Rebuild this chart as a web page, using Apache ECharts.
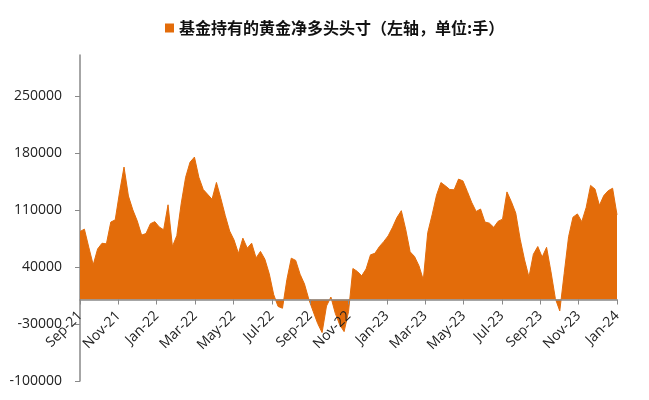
<!DOCTYPE html>
<html>
<head>
<meta charset="utf-8">
<script src="https://cdn.jsdelivr.net/npm/echarts@6/dist/echarts.min.js"></script>
<style>
html,body{margin:0;padding:0;background:#fff;}
#chart{width:649px;height:400px;}
</style>
</head>
<body>
<div id="chart"></div>
<script>
// Weekly net long position held by funds (contracts), first week of Sep-21 to first week of Jan-24
const seriesName = '基金持有的黄金净多头头寸（左轴，单位:手）';
const weeklyValues = [
  83400, 86300, 64000, 42500, 62000, 69000, 68300, 95000, 97700, 132000,
  162500, 127000, 110000, 96500, 79000, 81000, 93000, 95500, 89000, 85500,
  116200, 65000, 78500, 118000, 150000, 168500, 174700, 150000, 135000, 129000,
  123000, 143600, 124000, 103000, 84000, 73000, 56500, 75300, 63000, 69100,
  51000, 59000, 49500, 31500, 6000, -8500, -10700, 24500, 50700, 48000,
  31000, 19000, 0, -15000, -29500, -40600, -8000, 3000, -17000, -31000,
  -39400, -15000, 38000, 34500, 29000, 37500, 54800, 56700, 64800, 71000,
  78000, 88500, 100500, 109000, 86000, 58500, 52800, 41500, 24100, 82000,
  104000, 128000, 143500, 139500, 135000, 134600, 147700, 145500, 132500, 119000,
  108000, 111000, 95000, 93700, 88500, 96000, 98600, 132000, 120000, 106000,
  74000, 48600, 27500, 55500, 65000, 52000, 64000, 34000, 1000, -14000,
  32000, 77000, 101000, 105000, 95500, 113000, 140000, 135500, 115500, 127500,
  133500, 136500, 103900
];
const tickLabels = ['Sep-21','Nov-21','Jan-22','Mar-22','May-22','Jul-22','Sep-22','Nov-22',
  'Jan-23','Mar-23','May-23','Jul-23','Sep-23','Nov-23','Jan-24'];
const yMin = -100000, yMax = 300000, yStep = 70000;

const lastWeek = weeklyValues.length - 1;
const xStep = lastWeek / (tickLabels.length - 1);
const orange = '#E36C0A';
const axisColor = '#898989';
const fontFam = '"Open Sans", "Liberation Sans", sans-serif';

const gridTop = 55, gridBottom = 19, chartH = 400;
const plotH = chartH - gridTop - gridBottom;
// shift the date axis up so it sits on the zero line
const zeroOffset = -plotH * (0 - yMin) / (yMax - yMin);

const chart = echarts.init(document.getElementById('chart'));
chart.setOption({
  animation: false,
  backgroundColor: '#fff',
  legend: {
    data: [seriesName],
    left: 160, top: 15,
    icon: 'rect', itemWidth: 9, itemHeight: 9,
    textStyle: { fontSize: 16, fontFamily: '"Noto Sans CJK SC", sans-serif', fontWeight: 'bold', color: '#111' }
  },
  grid: { left: 80, right: 32, top: gridTop, bottom: gridBottom, containLabel: false, outerBoundsMode: 'none' },
  xAxis: {
    type: 'value',
    position: 'bottom',
    offset: zeroOffset,
    min: 0, max: xStep * (tickLabels.length - 1), interval: xStep,
    axisLine: { onZero: false, lineStyle: { color: axisColor, width: 1.5 } },
    axisTick: { show: true, length: 5, lineStyle: { color: axisColor } },
    splitLine: { show: false },
    axisLabel: {
      rotate: 45, margin: 14, fontSize: 14, fontFamily: fontFam, color: '#222',
      formatter: v => tickLabels[Math.round(v / xStep)] || ''
    },
    z: 5
  },
  yAxis: {
    type: 'value',
    min: yMin, max: yMax, interval: yStep,
    axisLine: { show: true, lineStyle: { color: axisColor, width: 1.5 } },
    axisTick: { show: true, length: 5, lineStyle: { color: axisColor } },
    splitLine: { show: false },
    axisLabel: { margin: 18, fontSize: 14, fontFamily: fontFam, color: '#222', showMaxLabel: false,
      formatter: v => String(v) }
  },
  series: [{
    name: seriesName,
    type: 'line',
    data: weeklyValues.map((v, i) => [i, v]),
    symbol: 'none',
    itemStyle: { color: orange },
    lineStyle: { color: orange, width: 1 },
    areaStyle: { color: orange, opacity: 1 },
    z: 1
  }]
});
</script>
</body>
</html>
